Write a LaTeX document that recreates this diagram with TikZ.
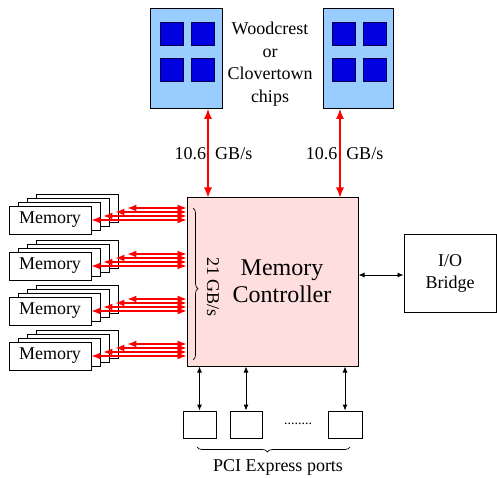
\documentclass[tikz,border=0pt]{standalone}
\usepackage{fontspec}
\setmainfont{Liberation Serif}
\newfontfamily\tnr{Liberation Serif}
\usetikzlibrary{arrows.meta,decorations.pathreplacing}
\definecolor{chipblue}{RGB}{153,204,255}
\definecolor{coreblue}{RGB}{0,0,225}
\definecolor{ctrlpink}{RGB}{255,222,222}
\tikzset{
  chip/.style={draw=black, line width=1pt, fill=chipblue, minimum width=72pt, minimum height=100pt, inner sep=0pt},
  core/.style={draw=black!70!blue, line width=0.8pt, fill=coreblue, minimum width=23pt, minimum height=23pt, inner sep=0pt},
  membox/.style={draw=black, line width=0.9pt, fill=white, minimum width=82pt, minimum height=28pt, inner sep=0pt, font=\tnr\fontsize{18}{20}\selectfont},
  plainbox/.style={draw=black, line width=0.9pt, fill=white, inner sep=0pt},
  redarrow/.style={red, line width=1.1pt, {Latex[length=10pt,width=8pt]}-{Latex[length=10pt,width=8pt]}},
  memarrow/.style={red, line width=1.1pt, {Latex[length=9pt,width=7pt]}-{Latex[length=9pt,width=7pt]}},
  blkarrow/.style={black, line width=0.9pt, {Latex[length=6pt,width=5pt]}-{Latex[length=6pt,width=5pt]}},
  lbl/.style={font=\tnr\fontsize{18}{22}\selectfont, inner sep=0pt},
  bracestyle/.style={draw=black, line width=0.7pt, decorate}
}
\begin{document}
\begin{tikzpicture}[x=1pt,y=-1pt]
\useasboundingbox (0,0) rectangle (497,478);
\fill[white] (0,0) rectangle (497,478);

% chips
\node[chip] (chipL) at (186,58.5) {};
\node[chip, minimum width=70pt] (chipR) at (358,58.5) {};
\foreach \n/\cx in {L/186, R/358}{
  \node[core] (c\n1) at (\cx-14.5,33.5) {};
  \node[core] (c\n2) at (\cx+17,33.5) {};
  \node[core] (c\n3) at (\cx-14.5,70) {};
  \node[core] (c\n4) at (\cx+17,70) {};
}
\node[lbl, align=center, font=\tnr\fontsize{18}{22.5}\selectfont] (chiptxt) at (270,64) {Woodcrest\\or\\Clovertown\\chips};

% memory controller
\node[draw=black, line width=1pt, fill=ctrlpink, minimum width=171pt, minimum height=168pt, inner sep=0pt] (ctrl) at (272.5,282) {};
\node[lbl, align=center, font=\tnr\fontsize{24}{27}\selectfont] (ctrltxt) at (282,281.5) {Memory\\Controller};
\node[lbl, rotate=-90] (bw21) at (213,287) {21 GB/s};
\coordinate (brT) at (193,208);
\coordinate (brB) at (193,360);
\draw[bracestyle, decoration={brace, amplitude=5pt, aspect=0.53}] (brT) -- (brB);

% chip links
\draw[redarrow] ([xshift=22]chipL.south) -- ([xshift=22]chipL.south |- ctrl.north);
\draw[redarrow] ([xshift=-18]chipR.south) -- ([xshift=-18]chipR.south |- ctrl.north);
\node[lbl] (bwL) at (213.5,154) {10.6\hspace{9pt}GB/s};
\node[lbl] (bwR) at (344.5,154) {10.6\hspace{9pt}GB/s};

% memory stacks
\foreach \g/\cy in {1/220, 2/266, 3/311, 4/356}{
  \foreach \k in {3,2,1}{
    \node[membox] (m\g-\k) at (50+9*\k,\cy-4*\k) {};
  }
  \node[membox] (m\g-0) at (50,\cy) {Memory};
  \foreach \k in {0,1,2,3}{
    \draw[memarrow] ([xshift=3*\k]m\g-\k.east) -- (m\g-\k.east -| ctrl.west);
  }
}

% I/O bridge
\node[plainbox, minimum width=92pt, minimum height=78pt, align=center, lbl] (io) at (450,273) {I/O\\Bridge};
\draw[blkarrow] (io.west |- 0,275) -- (ctrl.east |- 0,275);

% PCI express ports
\node[plainbox, minimum width=33pt, minimum height=27pt] (p1) at (199.5,424.5) {};
\node[plainbox, minimum width=32pt, minimum height=27pt] (p2) at (246,424.5) {};
\node[plainbox, minimum width=34pt, minimum height=27pt] (p3) at (345,424.5) {};
\draw[blkarrow] (p1.north) -- (p1.north |- ctrl.south);
\draw[blkarrow] (p2.north) -- (p2.north |- ctrl.south);
\draw[blkarrow] (p3.north) -- (p3.north |- ctrl.south);
\node[lbl, font=\tnr\fontsize{14}{16}\selectfont] (dots) at (298,424) {........};
\coordinate (pbR) at (350,447);
\coordinate (pbL) at (197,447);
\draw[bracestyle, decoration={brace, amplitude=5pt, aspect=0.54}] (pbR) -- (pbL);
\node[lbl] (pcitxt) at (278,467) {PCI Express ports};
\end{tikzpicture}
\end{document}
